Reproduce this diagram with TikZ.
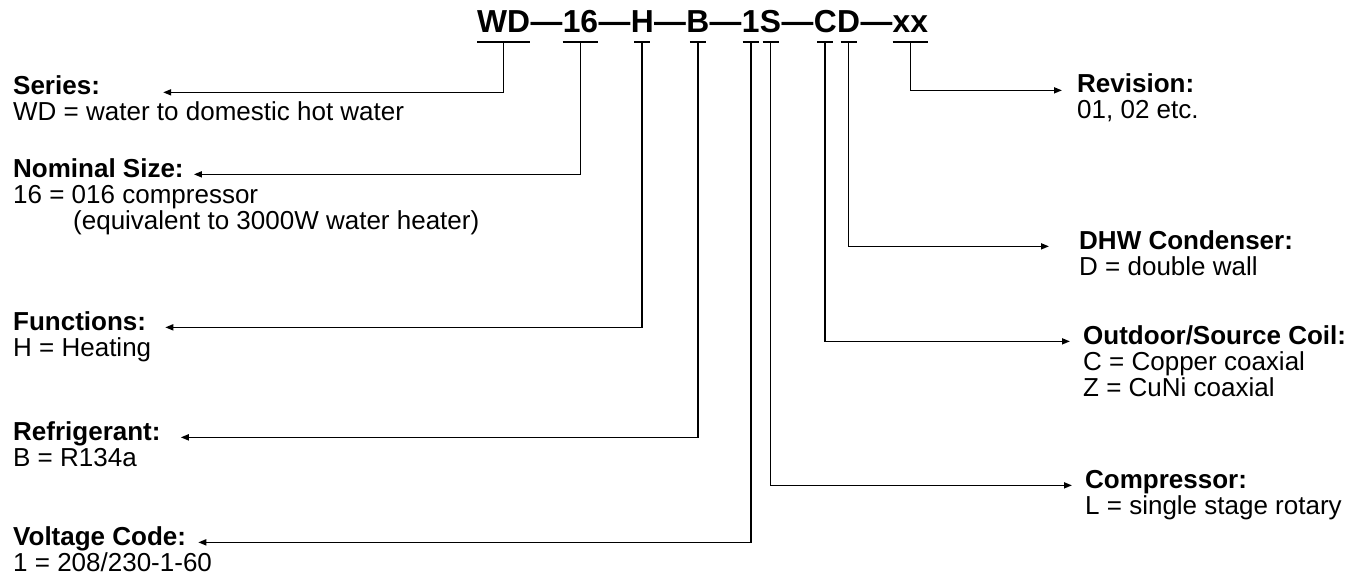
\documentclass[tikz,border=0pt]{standalone}
\usepackage{fontspec}
\setmainfont{Liberation Sans}
\usetikzlibrary{
  arrows.meta,
  positioning
}
\tikzset{
  code/.style={
    font=\fontsize{31.8}{32}\selectfont\bfseries,
    inner xsep=0pt,
    inner ysep=9pt,
    text depth=0pt
  },
  head/.style={font=\fontsize{26}{26}\selectfont\bfseries, inner sep=0pt, anchor=base west},
  desc/.style={font=\fontsize{26}{26}\selectfont, inner sep=0pt, anchor=base west},
  tick/.style={line width=1.8pt},
  pointer/.style={line width=1.6pt, -{Triangle[length=8pt,width=6pt]}}
}

\begin{document}
\begin{tikzpicture}[x=1pt, y=-1pt]
\useasboundingbox (0,0) rectangle (1360,575);

% --- Model code ---
\node[code, anchor=base west] (wd) at (477,33) {WD};
\node[code, base right=0pt of wd] (dash1) {\textemdash};
\node[code, base right=0pt of dash1] (sz) {16};
\node[code, base right=0pt of sz] (dash2) {\textemdash};
\node[code, base right=0pt of dash2] (fn) {H};
\node[code, base right=0pt of fn] (dash3) {\textemdash};
\node[code, base right=0pt of dash3] (rf) {B};
\node[code, base right=0pt of rf] (dash4) {\textemdash};
\node[code, base right=0pt of dash4] (vc) {1};
\node[code, base right=0pt of vc] (cp) {S};
\node[code, base right=0pt of cp] (dash5) {\textemdash};
\node[code, base right=0pt of dash5] (co) {C};
\node[code, base right=0pt of co] (dc) {D};
\node[code, base right=0pt of dc] (dash6) {\textemdash};
\node[code, base right=0pt of dash6] (rv) {xx};

\foreach \n in {wd,sz,rv}
  \draw[tick] (\n.south west) -- (\n.south east);
\foreach \n in {fn,rf,vc,cp,co,dc}
  \draw[tick] ([xshift=-8pt]\n.south) -- ([xshift=8pt]\n.south);

% --- Left column ---
\node[head] (series) at (13,95) {Series:};
\node[desc] (seriesd) at ([yshift=-26pt]series.base west) {WD = water to domestic hot water};

\node[head] (size) at (13,177) {Nominal Size:};
\node[desc] (sized) at ([yshift=-26pt]size.base west) {16 = 016 compressor};
\node[desc] (sizee) at ([xshift=60pt,yshift=-52pt]size.base west) {(equivalent to 3000W water heater)};

\node[head] (func) at (13,330) {Functions:};
\node[desc] (funcd) at ([yshift=-26pt]func.base west) {H = Heating};

\node[head] (refr) at (13,440) {Refrigerant:};
\node[desc] (refrd) at ([yshift=-26pt]refr.base west) {B = R134a};

\node[head] (volt) at (13,545) {Voltage Code:};
\node[desc] (voltd) at ([yshift=-26pt]volt.base west) {1 = 208/230-1-60};

% --- Right column ---
\node[head] (rev) at (1077,93) {Revision:};
\node[desc] (revd) at ([yshift=-26pt]rev.base west) {01, 02 etc.};

\node[head] (cond) at (1079,249) {DHW Condenser:};
\node[desc] (condd) at ([yshift=-26pt]cond.base west) {D = double wall};

\node[head] (coil) at (1083,344) {Outdoor/Source Coil:};
\node[desc] (coild) at ([yshift=-26pt]coil.base west) {C = Copper coaxial};
\node[desc] (coile) at ([yshift=-52pt]coil.base west) {Z = CuNi coaxial};

\node[head] (comp) at (1085,488) {Compressor:};
\node[desc] (compd) at ([yshift=-26pt]comp.base west) {L = single stage rotary};

% --- Pointers ---
\draw[pointer] (wd.south) |- ([xshift=63pt]series.mid east);
\draw[pointer] (sz.south) |- ([xshift=10pt]size.mid east);
\draw[pointer] (fn.south) |- ([xshift=19pt]func.mid east);
\draw[pointer] (rf.south) |- ([xshift=20pt]refr.mid east);
\draw[pointer] (vc.south) |- ([xshift=12pt]volt.mid east);

\draw[pointer] (rv.south) |- ([xshift=-15pt]rev.mid west);
\draw[pointer] (dc.south) |- ([xshift=-30pt]cond.mid west);
\draw[pointer] (co.south) |- ([xshift=-13pt]coil.mid west);
\draw[pointer] (cp.south) |- ([xshift=-13pt]comp.mid west);

\end{tikzpicture}
\end{document}
